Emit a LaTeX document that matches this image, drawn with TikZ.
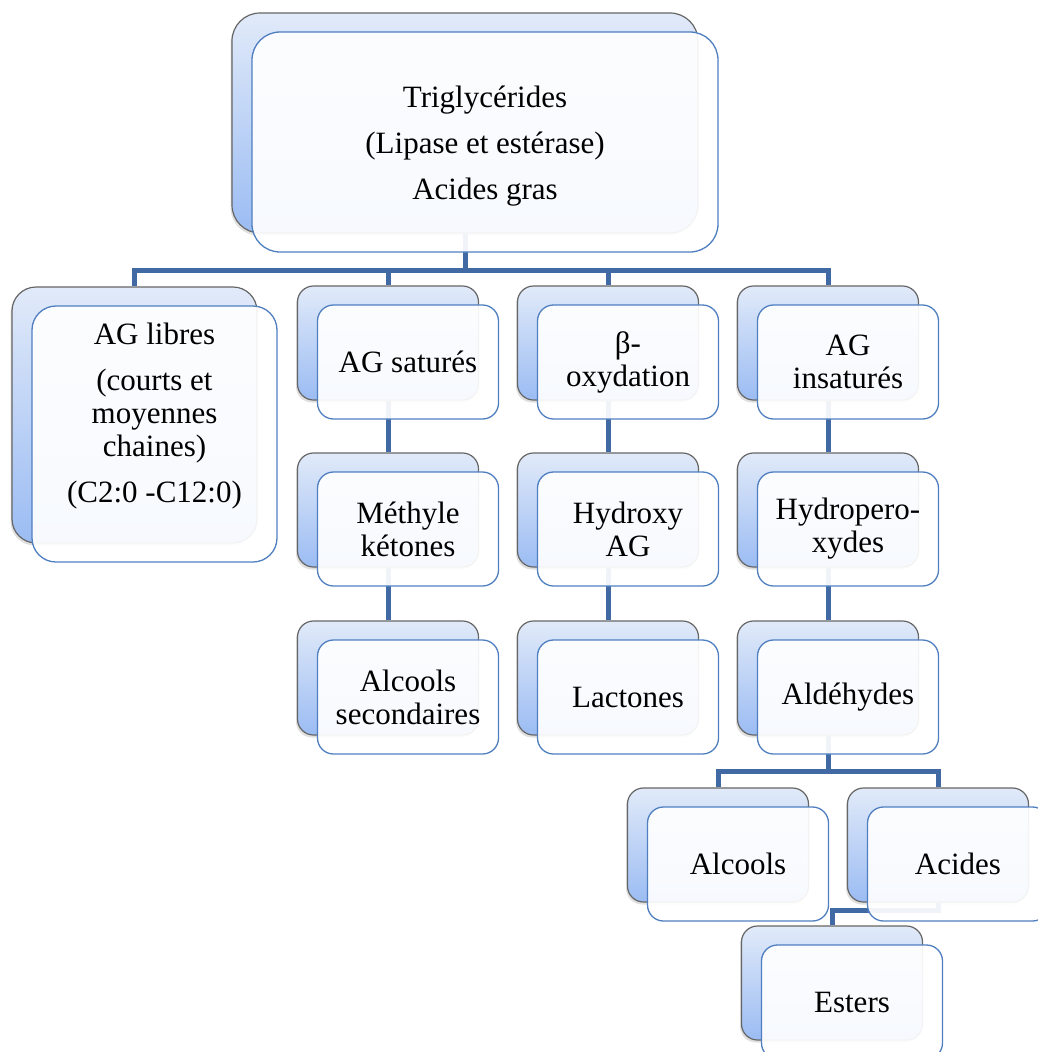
\documentclass[tikz,border=0pt]{standalone}
\usepackage{fontspec}
\setmainfont{Liberation Serif}
\usetikzlibrary{shadows,backgrounds}

\definecolor{linkblue}{HTML}{4169A3}
\definecolor{edgeblue}{HTML}{4F7FC0}
\definecolor{backtop}{HTML}{E1EAF9}
\definecolor{backbot}{HTML}{9BBCF3}

\begin{document}
\begin{tikzpicture}[
    x=1pt, y=-1pt,
    backbox/.style={
        rectangle,
        rounded corners=16pt,
        draw=black!60,
        line width=1.2pt,
        top color=backtop,
        bottom color=backbot,
        minimum width=181pt,
        minimum height=114pt,
        drop shadow={shadow xshift=-1.5pt, shadow yshift=-2.5pt, opacity=0.25}
    },
    frontbox/.style={
        rectangle,
        rounded corners=16pt,
        draw=edgeblue,
        line width=1.3pt,
        fill=white,
        fill opacity=0.92,
        draw opacity=1,
        text opacity=1,
        minimum width=181pt,
        minimum height=114pt,
        align=center,
        inner sep=0pt,
        font=\fontsize{31}{33}\selectfont
    },
    link/.style={
        draw=linkblue,
        line width=5pt
    }
]
    \useasboundingbox (0,0) rectangle (1037,1052);

    % Top
    \node[backbox, rounded corners=28pt, minimum width=466pt, minimum height=220pt] (tri) at (465,123) {};
    \node[frontbox, rounded corners=28pt, minimum width=466pt, minimum height=220pt] (trif) at ([xshift=20pt,yshift=-19pt]tri.center) {};
    \node[frontbox, draw=none, fill=none, minimum width=0pt, minimum height=0pt] (trit) at ([yshift=-4pt]trif.center)
        {Triglycérides\\[13pt] (Lipase et estérase)\\[13pt] Acides gras};

    % First row
    \node[backbox, rounded corners=24pt, minimum width=245pt, minimum height=256pt] (agl) at (134.5,415) {};
    \node[frontbox, rounded corners=24pt, minimum width=245pt, minimum height=256pt] (aglf) at ([xshift=20pt,yshift=-19pt]agl.center) {};
    \node[frontbox, draw=none, fill=none, minimum width=0pt, minimum height=0pt] (aglt) at ([yshift=18pt]aglf.center)
        {AG libres\\[13pt] (courts et\\ moyennes\\ chaines)\\[13pt] (C2:0 -C12:0)};

    \node[backbox] (ags) at (388,343) {};
    \node[frontbox] (agsf) at ([xshift=20pt,yshift=-19pt]ags.center) {AG saturés};
    \node[backbox] (box) at (608,343) {};
    \node[frontbox] (boxf) at ([xshift=20pt,yshift=-19pt]box.center) {β-\\ oxydation};
    \node[backbox] (agi) at (828,343) {};
    \node[frontbox] (agif) at ([xshift=20pt,yshift=-19pt]agi.center) {AG\\ insaturés};

    % Second row
    \node[backbox] (met) at (388,510) {};
    \node[frontbox] (metf) at ([xshift=20pt,yshift=-19pt]met.center) {Méthyle\\ kétones};
    \node[backbox] (hyd) at (608,510) {};
    \node[frontbox] (hydf) at ([xshift=20pt,yshift=-19pt]hyd.center) {Hydroxy\\ AG};
    \node[backbox] (hpx) at (828,510) {};
    \node[frontbox] (hpxf) at ([xshift=20pt,yshift=-19pt]hpx.center) {Hydropero-\\ xydes};

    % Third row
    \node[backbox] (alcs) at (388,678) {};
    \node[frontbox] (alcsf) at ([xshift=20pt,yshift=-19pt]alcs.center) {Alcools\\ secondaires};
    \node[backbox] (lac) at (608,678) {};
    \node[frontbox] (lacf) at ([xshift=20pt,yshift=-19pt]lac.center) {Lactones};
    \node[backbox] (ald) at (828,678) {};
    \node[frontbox] (aldf) at ([xshift=20pt,yshift=-19pt]ald.center) {Aldéhydes};

    % Aldehyde products
    \node[backbox] (alc) at (718,845) {};
    \node[frontbox] (alcf) at ([xshift=20pt,yshift=-19pt]alc.center) {Alcools};
    \node[backbox] (aci) at (938,845) {};
    \node[frontbox] (acif) at ([xshift=20pt,yshift=-19pt]aci.center) {Acides};
    \node[backbox] (est) at (832,983) {};
    \node[frontbox] (estf) at ([xshift=20pt,yshift=-19pt]est.center) {Esters};

    % Links
    \coordinate (bus1) at (0,270);
    \coordinate (bus2) at (0,771);
    \coordinate (bus3) at (0,910);
    \begin{scope}[on background layer]
        \draw[link] (tri.south) -- (tri.south |- bus1) -| (agl.north);
        \draw[link] (tri.south) -- (tri.south |- bus1) -| (ags.north);
        \draw[link] (tri.south) -- (tri.south |- bus1) -| (box.north);
        \draw[link] (tri.south) -- (tri.south |- bus1) -| (agi.north);

        \draw[link] (ags.south) -- (met.north);
        \draw[link] (met.south) -- (alcs.north);
        \draw[link] (box.south) -- (hyd.north);
        \draw[link] (hyd.south) -- (lac.north);
        \draw[link] (agi.south) -- (hpx.north);
        \draw[link] (hpx.south) -- (ald.north);

        \draw[link] (ald.south) -- (ald.south |- bus2) -| (alc.north);
        \draw[link] (ald.south) -- (ald.south |- bus2) -| (aci.north);
        \draw[link] (aci.south) -- (aci.south |- bus3) -| (est.north);
    \end{scope}

\end{tikzpicture}
\end{document}
